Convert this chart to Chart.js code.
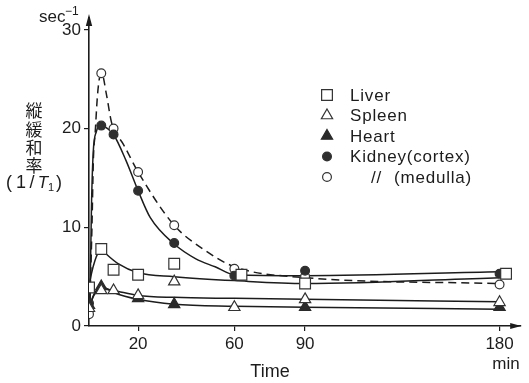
<!DOCTYPE html>
<html><head><meta charset="utf-8">
<script src="https://cdn.jsdelivr.net/npm/chart.js@4/dist/chart.umd.min.js"></script>
<style>html,body{margin:0;padding:0;background:#fff}#wrap{width:529px;height:383px}</style>
</head><body><div id="wrap"><canvas id="c" width="529" height="383"></canvas></div>
<script>
// ---- axis ticks ----
const xTicks = [20, 60, 90, 180];
const yTicks = [0, 10, 20, 30];
// hand-drawn time axis: tick stops and their relative spacing on the paper
const axisStopsT = [0, 20, 60, 90, 180];
const axisStopsU = [0, 50, 148, 220, 418];

// ---- measured points ----
const liverT   = [0, 5, 10, 20, 35, 63, 90, 183];
const liverV   = [3.9, 7.8, 5.7, 5.2, 6.3, 5.2, 4.3, 5.3];
const spleenT  = [0, 5, 10, 20, 35, 60, 90, 180];
const spleenV  = [1.8, 3.6, 3.6, 3.1, 4.5, 1.9, 2.7, 2.4];
const heartT   = [0, 5, 20, 35, 90, 180];
const heartV   = [2.1, 4.0, 2.8, 2.2, 1.9, 1.9];
const cortexT  = [0, 5, 10, 20, 35, 60, 90, 180];
const cortexV  = [2.3, 20.3, 19.4, 13.7, 8.4, 5.1, 5.6, 5.3];
const medullaT = [0, 5, 10, 20, 35, 60, 90, 180];
const medullaV = [1.2, 25.6, 20.0, 15.6, 10.2, 5.8, 5.0, 4.2];

// ---- drawn fitted curves ----
const liverCurveT   = [0, 1, 2.4, 3.7, 5, 7, 12, 20, 35, 60, 90, 180];
const liverCurveV   = [3.9, 5.3, 6.6, 7.4, 7.8, 7.3, 6.3, 5.4, 5.0, 4.6, 4.3, 4.9];
const spleenCurveT  = [0, 2, 5, 10, 20, 35, 60, 90, 180];
const spleenCurveV  = [1.8, 3.1, 3.8, 3.6, 3.1, 2.9, 2.8, 2.7, 2.45];
const heartCurveT   = [0, 2, 5, 10, 20, 35, 60, 90, 180];
const heartCurveV   = [1.8, 3.2, 4.0, 3.4, 2.7, 2.2, 2.0, 1.9, 1.7];
const cortexCurveT  = [0.4, 1, 1.7, 3, 5, 7, 10, 15, 20, 25, 35, 44, 52, 60, 90, 180];
const cortexCurveV  = [2.5, 12, 17.5, 19.7, 20.4, 20.1, 19.4, 16.8, 13.7, 11.0, 8.3, 6.8, 6.0, 5.2, 5.1, 5.5];
const medullaCurveT = [0.4, 1.2, 1.8, 2.5, 3.4, 4.4, 5.2, 7, 9, 10, 14, 20, 35, 47, 60, 90, 180];
const medullaCurveV = [2.5, 10, 17, 19.5, 23.2, 25.3, 25.6, 23.6, 20.8, 20.0, 18.4, 15.6, 10.2, 7.8, 6.0, 4.9, 4.3];

const FONT = "'Liberation Sans', Arial, sans-serif";
const INK = '#1c1c1c';

function warp(t){
  const n = axisStopsT.length;
  if (t <= axisStopsT[0]) return axisStopsU[0] + (t - axisStopsT[0]) * 2.5;
  for (let i = 1; i < n; i++) {
    if (t <= axisStopsT[i]) {
      const f = (t - axisStopsT[i-1]) / (axisStopsT[i] - axisStopsT[i-1]);
      return axisStopsU[i-1] + f * (axisStopsU[i] - axisStopsU[i-1]);
    }
  }
  return axisStopsU[n-1] + (t - axisStopsT[n-1]) * 2.2;
}
function unwarp(u){
  const n = axisStopsU.length;
  for (let i = 1; i < n; i++) {
    if (u <= axisStopsU[i]) {
      const f = (u - axisStopsU[i-1]) / (axisStopsU[i] - axisStopsU[i-1]);
      return axisStopsT[i-1] + f * (axisStopsT[i] - axisStopsT[i-1]);
    }
  }
  return axisStopsT[n-1] + (u - axisStopsU[n-1]) / 2.2;
}
class WarpScale extends Chart.LinearScale {
  getPixelForValue(v){ return v === null || v === undefined ? NaN : super.getPixelForValue(warp(v)); }
  getValueForPixel(p){ return unwarp(super.getValueForPixel(p)); }
}
WarpScale.id = 'warp';
WarpScale.defaults = Chart.LinearScale.defaults;
Chart.register(WarpScale);

const pts = (T, V) => T.map((t, i) => ({x: t, y: V[i]}));

const styles = {
  liver:   {pointStyle: 'rect',     radius: 7.6, fill: '#fff', stroke: '#333'},
  spleen:  {pointStyle: 'triangle', radius: 6.5, fill: '#fff', stroke: '#333'},
  heart:   {pointStyle: 'triangle', radius: 6.5, fill: '#2a2a2a', stroke: '#2a2a2a'},
  cortex:  {pointStyle: 'circle',   radius: 4.4, fill: '#2f2f2f', stroke: '#2f2f2f'},
  medulla: {pointStyle: 'circle',   radius: 4.4, fill: '#fff', stroke: '#333'}
};

function curve(T, V, dashed){
  return {type: 'line', data: pts(T, V), borderColor: INK, borderWidth: 1.5,
    borderDash: dashed ? [8, 5] : [], pointRadius: 0, cubicInterpolationMode: 'monotone',
    fill: false, order: 10};
}
function marks(label, T, V, s){
  return {type: 'line', label, data: pts(T, V), showLine: false,
    pointStyle: s.pointStyle, pointRadius: s.radius, pointBackgroundColor: s.fill,
    pointBorderColor: s.stroke, pointBorderWidth: 1.2, order: 0};
}

const legendItems = [
  {s: styles.liver, parts: [['Liver', 350]]},
  {s: styles.spleen, parts: [['Spleen', 350]]},
  {s: styles.heart, parts: [['Heart', 350]]},
  {s: styles.cortex, parts: [['Kidney(cortex)', 350]]},
  {s: styles.medulla, parts: [['//', 371], ['(medulla)', 394]]}
];

function drawMarker(ctx, s, x, y){
  ctx.save();
  ctx.fillStyle = s.fill; ctx.strokeStyle = s.stroke; ctx.lineWidth = 1.2;
  ctx.beginPath();
  const r = s.radius;
  if (s.pointStyle === 'rect') { const h = r * Math.SQRT1_2; ctx.rect(x - h, y - h, 2*h, 2*h); }
  else if (s.pointStyle === 'triangle') {
    ctx.moveTo(x, y - r); ctx.lineTo(x + r*0.866, y + r*0.5); ctx.lineTo(x - r*0.866, y + r*0.5); ctx.closePath();
  } else ctx.arc(x, y, r, 0, Math.PI*2);
  ctx.fill(); ctx.stroke();
  ctx.restore();
}

const decor = {
  id: 'decor',
  afterDraw(chart){
    const ctx = chart.ctx, a = chart.chartArea;
    ctx.save();
    ctx.fillStyle = INK; ctx.strokeStyle = INK;
    // axis arrows
    ctx.beginPath(); ctx.moveTo(a.left, a.top - 4); ctx.lineTo(a.left - 3.2, a.top + 8); ctx.lineTo(a.left + 3.2, a.top + 8); ctx.closePath(); ctx.fill();
    ctx.beginPath(); ctx.moveTo(a.right + 1, a.bottom); ctx.lineTo(a.right - 10, a.bottom - 3); ctx.lineTo(a.right - 10, a.bottom + 3); ctx.closePath(); ctx.fill();
    // unit sec^-1
    ctx.textBaseline = 'alphabetic'; ctx.textAlign = 'left';
    ctx.font = '17px ' + FONT; ctx.fillText('sec', 39, 22);
    ctx.font = '12px ' + FONT; ctx.fillText('\u22121', 65, 15);
    // vertical Japanese title
    ctx.textAlign = 'center'; ctx.textBaseline = 'middle';
    ctx.font = "17px 'Noto Sans CJK JP', sans-serif";
    ['縦', '緩', '和', '率'].forEach((ch, i) => ctx.fillText(ch, 34, 111 + i * 18.2));
    ctx.font = '18px ' + FONT;
    ctx.fillText('(', 9, 183); ctx.fillText('1', 21, 183); ctx.fillText('/', 32, 183); ctx.fillText(')', 59, 183);
    ctx.font = 'italic 17px ' + FONT; ctx.fillText('T', 43, 183);
    ctx.font = '11px ' + FONT; ctx.fillText('1', 51, 188);
    // axis title and unit
    ctx.font = '18px ' + FONT; ctx.textBaseline = 'alphabetic';
    ctx.fillText('Time', 270, 377);
    ctx.font = '17px ' + FONT; ctx.fillText('min', 506, 369);
    // legend
    ctx.textAlign = 'left'; ctx.textBaseline = 'middle'; ctx.font = '17px ' + FONT;
    if ('letterSpacing' in ctx) ctx.letterSpacing = '0.8px';
    legendItems.forEach((it, i) => {
      const y = 95 + i * 20.5;
      drawMarker(ctx, it.s, 327, y);
      it.parts.forEach(([txt, x]) => ctx.fillText(txt, x, y + 1));
    });
    ctx.restore();
  }
};

new Chart(document.getElementById('c'), {
  data: {datasets: [
    curve(liverCurveT, liverCurveV),
    curve(spleenCurveT, spleenCurveV),
    curve(heartCurveT, heartCurveV),
    curve(cortexCurveT, cortexCurveV),
    curve(medullaCurveT, medullaCurveV, true),
    marks('Liver', liverT, liverV, styles.liver),
    marks('Spleen', spleenT, spleenV, styles.spleen),
    marks('Heart', heartT, heartV, styles.heart),
    marks('Kidney(cortex)', cortexT, cortexV, styles.cortex),
    marks('Kidney(medulla)', medullaT, medullaV, styles.medulla)
  ]},
  options: {
    responsive: false, animation: false, devicePixelRatio: 1,
    layout: {padding: {top: 18, right: 1, bottom: 0, left: 0}},
    plugins: {legend: {display: false}, tooltip: {enabled: false}},
    scales: {
      x: {type: 'warp', min: 0, max: 439,
        afterBuildTicks: s => { s.ticks = xTicks.map(v => ({value: v})); },
        afterFit: s => { s.height = 57; },
        ticks: {callback: v => String(v), color: INK, font: {size: 17, family: FONT}, padding: 3, maxRotation: 0, autoSkip: false},
        grid: {display: true, drawOnChartArea: false, drawTicks: true, tickLength: 5, color: INK, lineWidth: 1.2},
        border: {display: true, color: INK, width: 1.6}},
      y: {type: 'linear', min: 0, max: 31.2,
        afterBuildTicks: s => { s.ticks = yTicks.map(v => ({value: v})); },
        afterFit: s => { s.width = 89; },
        ticks: {callback: v => String(v), color: INK, font: {size: 17, family: FONT}, padding: 3},
        grid: {display: true, drawOnChartArea: false, drawTicks: true, tickLength: 5, color: INK, lineWidth: 1.2},
        border: {display: true, color: INK, width: 1.6}}
    }
  },
  plugins: [decor]
});
</script></body></html>
